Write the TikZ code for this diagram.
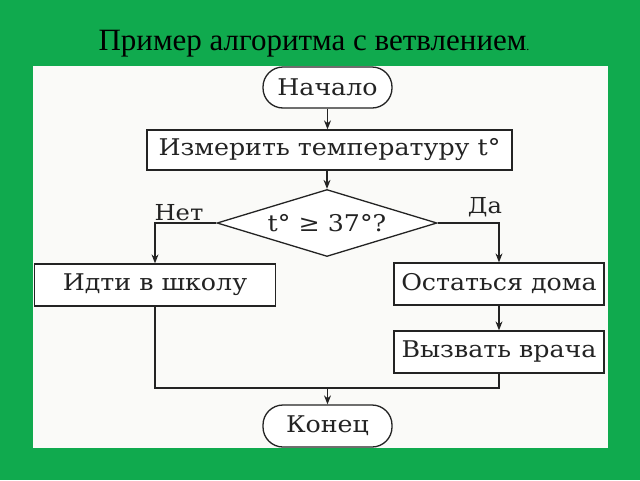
\documentclass[tikz,border=0pt]{standalone}
\usepackage{fontspec}
\setmainfont[FakeStretch=1.1]{DejaVu Serif}
\newfontfamily\titlefont{Liberation Serif}
\usetikzlibrary{shapes.geometric,arrows.meta}
\definecolor{bggreen}{RGB}{16,170,78}
\definecolor{ink}{RGB}{35,35,35}
\definecolor{paper}{RGB}{250,250,248}
\tikzset{
  box/.style={draw=ink, line width=1.3pt, fill=white, text=ink, inner sep=0pt,
    font=\fontsize{23}{26}\selectfont},
  stadium/.style={box, rounded corners=20pt},
  cond/.style={box, diamond, aspect=3.3},
  conn/.style={draw=ink, line width=1.2pt},
  arr/.style={conn, -{Stealth[length=9pt,width=7pt]}},
  lbl/.style={text=ink, inner sep=0pt, font=\fontsize{22}{25}\selectfont},
}
\begin{document}
\begin{tikzpicture}[x=1pt,y=-1pt]
\useasboundingbox (0,0) rectangle (640,480);
\fill[bggreen] (0,0) rectangle (640,480);
\fill[paper] (33,66) rectangle (608,448);
\node[anchor=base, inner sep=0pt, text=black, font=\titlefont\fontsize{31}{34}\selectfont] (title) at (314,50)
  {Пример алгоритма с ветвлением{\fontsize{12}{14}\selectfont.}};

\node[stadium, minimum width=129pt, minimum height=41pt] (start) at (327.5,87.5) {Начало};
\node[box, minimum width=365pt, minimum height=40pt] (measure) at (329.5,150) {Измерить температуру t°};
\node[cond, minimum width=220pt, minimum height=67pt] (check) at (327,223) {t° ≥ 37°?};
\node[box, minimum width=241pt, minimum height=42pt] (school) at (155,285) {Идти в школу};
\node[box, minimum width=210pt, minimum height=42pt] (home) at (499,284) {Остаться дома};
\node[box, minimum width=210pt, minimum height=42pt] (doctor) at (499,352) {Вызвать врача};
\node[stadium, minimum width=129pt, minimum height=42pt] (end) at (327.5,426) {Конец};

\node[lbl, anchor=base] (no) at (179,220) {Нет};
\node[lbl, anchor=base] (yes) at (485,213) {Да};

\coordinate (join) at (327.5,388);

\draw[arr] (start.south) -- (start.south |- measure.north);
\draw[arr] (check.north |- measure.south) -- (check.north);
\draw[arr] (check.west) -| (school.north);
\draw[arr] (check.east) -| (home.north);
\draw[arr] (home.south) -- (doctor.north);
\draw[conn] (school.south) |- (join) -| (doctor.south);
\draw[arr] (join) -- (end.north);
\end{tikzpicture}
\end{document}
